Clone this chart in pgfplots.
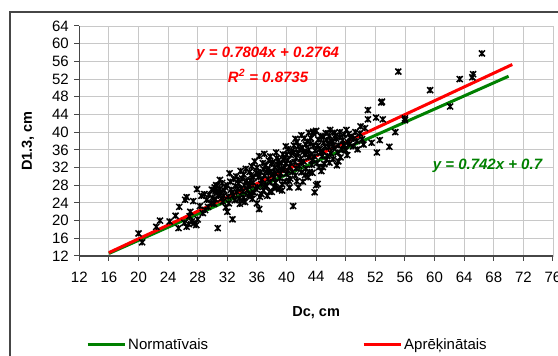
\documentclass[border=0pt]{standalone}
\usepackage{fontspec}
\setmainfont{Liberation Sans}
\usepackage{pgfplots}
\pgfplotsset{compat=1.18}

\definecolor{exgreen}{RGB}{0,128,0}
\definecolor{exred}{RGB}{255,0,0}
\definecolor{gridgray}{RGB}{200,200,200}
\definecolor{axisgray}{RGB}{70,70,70}

% star marker: a cross with a vertical bar
\pgfdeclareplotmark{xstar}{%
  \pgfpathmoveto{\pgfqpoint{-\pgfplotmarksize}{-\pgfplotmarksize}}%
  \pgfpathlineto{\pgfqpoint{\pgfplotmarksize}{\pgfplotmarksize}}%
  \pgfpathmoveto{\pgfqpoint{-\pgfplotmarksize}{\pgfplotmarksize}}%
  \pgfpathlineto{\pgfqpoint{\pgfplotmarksize}{-\pgfplotmarksize}}%
  \pgfpathmoveto{\pgfqpoint{0pt}{-\pgfplotmarksize}}%
  \pgfpathlineto{\pgfqpoint{0pt}{\pgfplotmarksize}}%
  \pgfusepathqstroke}

\begin{document}
\begin{tikzpicture}
\useasboundingbox (-79.3pt,-100pt) rectangle (478.7pt,256pt);
\clip (-79.3pt,-100pt) rectangle (478.7pt,256pt);
% outer chart frame
\draw[axisgray, line width=1.2pt] (-69.3pt,-130pt) -- (-69.3pt,244pt) -- (520pt,244pt);
\begin{axis}[
  at={(0pt,0pt)}, anchor=south west,
  scale only axis, width=473.7pt, height=230pt,
  xmin=12, xmax=76, ymin=12, ymax=64,
  xtick={12,16,...,76}, ytick={12,16,...,64},
  grid=major, major grid style={gridgray, line width=0.9pt},
  axis line style={gridgray, line width=0.9pt},
  tick align=outside, tick pos=left, major tick length=5pt,
  tick style={axisgray, line width=1pt},
  /pgf/number format/assume math mode=true,
  ticklabel style={font=\fontsize{15}{17}\selectfont},
  xticklabel style={yshift=-7pt},
  yticklabel style={xshift=-2pt},
  xlabel={\textbf{Dc, cm}}, ylabel={\textbf{D1.3, cm}},
  label style={font=\fontsize{14.5}{16}\selectfont},
  xlabel style={at={(axis description cs:0.5,-0.2465)}, anchor=center},
  ylabel style={at={(axis description cs:-0.1083,0.5)}, anchor=center},
  legend columns=2,
  legend style={at={(axis description cs:0.0141,-0.386)}, anchor=west,
    draw=none, fill=none, inner sep=0pt, nodes={inner sep=2pt},
    font=\fontsize{15}{17}\selectfont,
    /tikz/every even column/.append style={column sep=152pt}},
  legend image code/.code={\draw[#1] (0pt,0pt) -- (37pt,0pt);},
  clip=false,
]
% measured trees
\addplot[only marks, mark=xstar, mark size=3pt, black, line width=1.5pt, forget plot] coordinates {
(20.0,17.1) (20.5,15.1) (22.4,18.6) (22.9,20.0) (24.2,19.8) (25.0,21.1)
(25.5,23.1) (25.4,18.3) (26.3,24.7) (26.5,25.3) (27.0,22.0) (26.5,18.6)
(26.8,19.2) (27.2,19.8) (27.5,19.4) (26.2,19.5) (27.9,27.1) (28.3,23.3)
(28.7,21.7) (29.4,23.1) (28.0,20.3) (27.8,19.0) (29.0,22.4) (29.8,24.0)
(30.1,26.9) (30.3,27.5) (30.6,26.4) (30.8,25.6) (30.4,24.8) (31.0,27.2)
(30.9,26.0) (31.2,25.0) (30.7,18.3) (31.4,24.3) (30.2,23.8) (31.6,26.8)
(32.0,22.0) (32.7,20.3) (32.1,25.4) (32.3,30.7) (32.5,27.0) (32.8,25.8)
(33.0,24.6) (32.2,23.9) (31.8,23.0)
(33.7,23.8) (33.3,26.5) (33.5,28.4) (33.9,27.3) (34.2,25.2) (34.4,24.2)
(34.6,29.0) (34.0,29.5) (34.8,27.8) (35.0,26.0) (35.2,30.3) (35.5,28.6)
(35.4,24.9) (35.8,27.2) (36.0,23.9) (36.3,22.6) (36.2,29.8) (36.5,31.0)
(36.6,28.3) (36.9,26.8) (37.0,30.2) (37.2,32.5) (37.5,29.4) (37.7,26.5)
(37.9,31.1) (37.3,27.8) (36.8,33.0) (37.6,33.6) (38.0,26.5) (38.2,30.4)
(38.4,32.0) (38.5,28.6) (38.7,34.1) (38.9,31.3) (39.0,27.1) (39.1,29.6)
(39.3,33.0) (39.5,35.0) (39.6,31.8) (39.8,28.8) (40.0,30.6) (40.1,33.6)
(40.2,36.2) (40.4,32.2) (40.5,29.5) (40.6,34.8) (40.8,31.0) (40.9,23.3)
(41.0,37.0) (41.1,33.2) (41.2,30.2) (41.4,37.8) (41.5,35.3) (41.6,27.5)
(41.7,32.4) (41.9,34.0) (42.0,30.9) (42.1,36.5) (42.3,33.4) (42.4,38.6)
(42.6,31.7) (42.7,35.5) (42.9,29.8) (43.0,34.3) (43.2,37.4) (43.4,32.6)
(43.6,39.7) (43.6,40.1) (43.8,26.4) (44.0,28.0) (44.2,28.3) (43.9,35.8)
(44.1,33.0) (44.3,38.3) (44.5,36.2) (44.7,31.2) (44.8,34.6) (45.0,38.9)
(45.2,36.8) (45.4,33.8) (45.6,37.5) (45.9,40.5) (46.0,35.2) (46.2,38.0)
(46.4,36.4) (46.8,32.5) (46.6,39.2) (47.0,37.0) (47.2,38.8) (47.5,36.0)
(47.8,39.5) (48.1,40.5) (48.3,37.7) (48.6,38.9) (49.0,36.8) (49.3,40.0)
(49.9,39.7) (50.2,38.4) (50.6,40.9) (51.0,45.0) (51.0,42.9) (51.5,37.6)
(52.1,43.3) (52.6,38.2) (52.2,35.4) (52.8,46.7) (52.9,46.9) (53.0,42.9)
(53.9,36.7) (54.7,40.0) (55.1,53.7) (56.0,43.1) (56.0,42.7) (59.4,49.5)
(62.1,45.8) (63.4,52.0) (65.1,52.4) (65.2,53.1) (66.4,57.8)
(33.1,27.8) (33.6,25.0) (34.1,26.6) (34.3,28.0) (34.9,25.5) (35.1,29.1)
(35.6,26.3) (35.9,30.8) (36.1,27.6) (36.4,25.4) (36.7,29.3) (37.1,28.0)
(37.4,31.4) (37.8,28.7) (38.1,33.2) (38.3,29.8) (38.6,27.4) (38.8,32.6)
(39.2,30.7) (39.4,28.2) (39.7,34.2) (39.9,32.9) (40.3,29.0) (40.7,35.8)
(41.3,31.8) (41.8,36.0) (42.2,28.8) (42.5,34.9) (42.8,37.9) (43.1,31.0)
(43.3,35.0) (43.5,33.7) (43.7,37.0) (44.4,32.1) (44.6,39.1) (44.9,35.7)
(45.1,32.8) (45.3,39.8) (45.5,34.6) (45.7,36.6) (46.1,37.8) (46.3,33.9)
(46.5,39.9) (46.9,35.4) (47.3,34.3) (47.6,38.2) (48.0,35.9) (48.5,37.3)
(48.8,39.0) (49.5,38.0) (50.0,41.3) (50.4,37.2) (29.5,25.8) (29.9,27.0)
(30.5,28.0) (31.3,28.5) (31.7,27.6) (32.4,28.8) (32.9,29.4) (33.2,30.0)
(33.8,31.2) (34.5,31.7) (35.3,32.3) (35.7,33.4) (36.0,32.0) (36.3,34.6)
(37.0,35.1) (28.5,25.6) (29.2,24.7) (27.4,24.4) (26.9,21.0) (28.9,26.0)
(30.0,25.2) (30.6,27.8) (31.1,26.3) (31.5,25.6) (32.6,26.3) (33.4,27.2)
(34.7,26.9) (35.0,28.0) (35.5,29.8) (36.2,30.6) (36.9,31.6) (37.5,30.8)
(38.0,32.8) (38.4,30.9) (38.9,33.6) (39.3,31.5) (39.6,33.8) (40.0,34.9)
(40.2,31.3) (40.6,33.0) (41.0,35.4) (41.3,34.2) (41.6,36.8) (42.0,33.0)
(42.3,35.6) (42.6,37.2) (43.0,36.0) (43.3,38.6) (43.8,34.5) (44.2,36.9)
(44.6,35.3) (45.0,37.6) (45.4,38.2) (45.8,39.2) (46.3,36.9) (46.7,38.5)
(47.2,40.0) (47.7,37.1) (48.4,39.6) (49.1,38.5) (35.0,31.0) (34.2,30.4)
(33.5,29.2) (37.8,34.5) (38.6,35.4) (39.9,36.8) (41.2,38.5) (42.0,39.3)
(43.0,39.9) (44.0,40.3) (32.0,28.0) (31.0,29.2) (30.4,26.6) (34.0,24.5)
(35.2,25.9) (36.6,26.0) (37.4,25.6) (38.3,27.6) (39.4,26.8) (40.4,27.5)
(41.4,28.9) (42.5,30.3) (43.5,30.8) (44.9,32.1) (45.8,33.1) (47.0,33.4)
(48.2,34.8) (49.6,36.1)
};
% y = 0.742x + 0.7
\addplot[exgreen, line width=3pt] coordinates {(16,12.572) (70,52.64)};
\addlegendentry{Normatīvais}
% y = 0.7804x + 0.2764
\addplot[exred, line width=3pt] coordinates {(16,12.7628) (70.5,55.2946)};
\addlegendentry{Aprēķinātais}
% trendline labels
\node[exred, font=\fontsize{15}{17}\selectfont\bfseries\itshape] at (axis description cs:0.3977,0.878) {y = 0.7804x + 0.2764};
\node[exred, font=\fontsize{15}{17}\selectfont\bfseries\itshape] at (axis description cs:0.3985,0.783) {R\textsuperscript{2} = 0.8735};
\node[exgreen, font=\fontsize{15}{17}\selectfont\bfseries\itshape] at (axis description cs:0.8617,0.391) {y = 0.742x + 0.7};
% axis lines with ticks
\draw[axisgray, line width=1.2pt] (rel axis cs:0,1) -- (rel axis cs:0,0) -- (rel axis cs:1,0);
\end{axis}
\end{tikzpicture}
\end{document}
